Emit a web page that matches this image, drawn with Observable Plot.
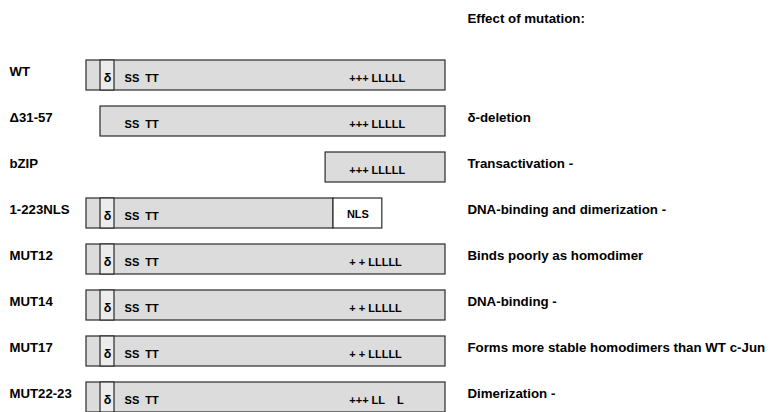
<!DOCTYPE html>
<html>
<head>
<meta charset="utf-8">
<script src="https://cdn.jsdelivr.net/npm/d3@7"></script>
<script src="https://cdn.jsdelivr.net/npm/@observablehq/plot@0.6"></script>
<style>
  html, body { margin: 0; padding: 0; background: #fff; }
  #chart svg text { white-space: pre; }
</style>
</head>
<body>
<div id="chart"></div>
<script>
// Constructs (rows, top to bottom)
const constructs = ["WT", "Δ31-57", "bZIP", "1-223NLS", "MUT12", "MUT14", "MUT17", "MUT22-23"];
// Effect of mutation (right-hand annotation)
const effects = ["", "δ-deletion", "Transactivation -", "DNA-binding and dimerization -",
  "Binds poorly as homodimer", "DNA-binding -", "Forms more stable homodimers than WT c-Jun", "Dimerization -"];
// Schematic extent of each construct (percent of full-length c-Jun, not to scale)
const barStart = [0, 3.9, 66.6, 0, 0, 0, 0, 0];
const barEnd = [100, 100, 100, 68.8, 100, 100, 100, 100];
// Which constructs keep the delta domain
const hasDelta = [true, false, false, true, true, true, true, true];
// Ser/Thr cluster present?
const hasSerThr = [true, true, false, true, true, true, true, true];
// Basic region and leucine zipper annotations
const basicRegion = ["+++", "+++", "+++", "", "+ +", "+ +", "+ +", "+++"];
const leucineZipper = ["LLLLL", "LLLLL", "LLLLL", "", "LLLLL", "LLLLL", "LLLLL", "LL    L"];
// NLS fused to 1-223
const hasNLS = [false, false, false, true, false, false, false, false];

// Schematic domain positions
const deltaRegion = [3.9, 7.8];
const nlsRegion = [68.8, 82.4];
const serThrPos = 10.6;
const bzipPos = 73.2;
const effectPos = 106.1;
const title = "Effect of mutation:";

const rows = constructs.map((name, i) => ({
  name, effect: effects[i], start: barStart[i], end: barEnd[i],
  delta: hasDelta[i], serThr: hasSerThr[i], basic: basicRegion[i], zipper: leucineZipper[i], nls: hasNLS[i]
}));

const font = "'Liberation Sans', Arial, Helvetica, sans-serif";
const strokeC = "#2a2a2a";

const chart = Plot.plot({
  width: 771,
  height: 412,
  marginTop: 0, marginLeft: 0, marginRight: 0, marginBottom: 0,
  style: { fontFamily: font, background: "#fff" },
  x: { domain: [0, 100], range: [86, 445], axis: null },
  y: { domain: constructs, range: [58, 413.5], paddingInner: 0.343, paddingOuter: 0, axis: null },
  marks: [
    Plot.barX(rows, { y: "name", x1: "start", x2: "end", fill: "#dcdcdc", stroke: strokeC, strokeWidth: 1.2 }),
    Plot.barX(rows.filter(d => d.delta), { y: "name", x1: () => deltaRegion[0], x2: () => deltaRegion[1], fill: "#ececec", stroke: strokeC, strokeWidth: 1.2 }),
    Plot.barX(rows.filter(d => d.nls), { y: "name", x1: () => nlsRegion[0], x2: () => nlsRegion[1], fill: "#ffffff", stroke: strokeC, strokeWidth: 1.2 }),
    Plot.text(rows.filter(d => d.delta), { y: "name", x: () => (deltaRegion[0] + deltaRegion[1]) / 2, text: () => "δ", fontSize: 12.5, fontWeight: "bold", fill: "#000", dy: 2 }),
    Plot.text(rows.filter(d => d.serThr), { y: "name", x: () => serThrPos, text: () => "SS  TT", textAnchor: "start", fontSize: 11, fontWeight: "bold", fill: "#000", dy: 3 }),
    Plot.text(rows.filter(d => d.basic), { y: "name", x: () => bzipPos, text: d => d.basic + " " + d.zipper, textAnchor: "start", fontSize: 11, fontWeight: "bold", fill: "#000", dy: 3 }),
    Plot.text(rows.filter(d => d.nls), { y: "name", x: () => (nlsRegion[0] + nlsRegion[1]) / 2, text: () => "NLS", fontSize: 11, fontWeight: "bold", fill: "#000", dy: 1 }),
    Plot.text(rows, { y: "name", text: "name", frameAnchor: "left", textAnchor: "start", dx: 9, dy: -4, fontSize: 13.2, fontWeight: "bold", fill: "#000" }),
    Plot.text(rows.filter(d => d.effect), { y: "name", x: () => effectPos, text: "effect", textAnchor: "start", dy: -4, fontSize: 13.3, fontWeight: "bold", fill: "#000" }),
    Plot.text([title], { x: () => effectPos, frameAnchor: "top", text: d => d, textAnchor: "start", dy: 13, fontSize: 13.3, fontWeight: "bold", fill: "#000" })
  ]
});
document.getElementById("chart").appendChild(chart);
</script>
</body>
</html>
